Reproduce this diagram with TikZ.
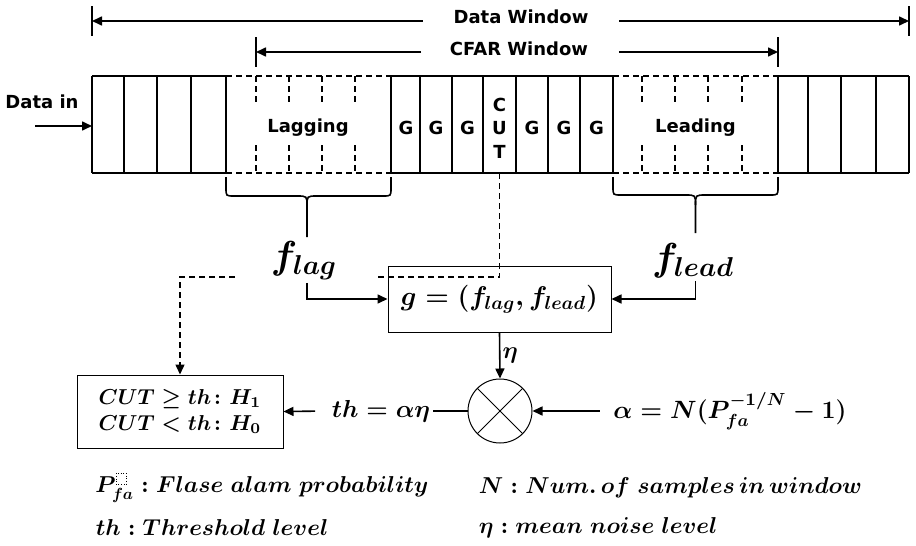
\RequirePackage{fix-cm}
\documentclass[tikz,border=0pt]{standalone}
\usepackage{amsmath}
\usepackage{amssymb}
\usepackage{fontspec}
\newfontfamily\lblfont{DejaVu Sans}
\usepackage{tikz}
\usetikzlibrary{arrows.meta}

\tikzset{
  lbl/.style={font=\lblfont\bfseries\fontsize{9}{11.75}\selectfont},
  tip/.style={-{Triangle[length=5pt,width=4.5pt]}},
  cell/.style={line width=0.7pt},
  dash line/.style={line width=0.7pt,dash pattern=on 3pt off 2pt},
  blockbox/.style={draw,line width=0.5pt,inner sep=1pt},
  legend/.style={anchor=west,font=\boldmath\fontsize{11.5}{14}\selectfont}
}

\begin{document}
\begin{tikzpicture}[x=0.5pt,y=-0.5pt,line width=0.8pt,every node/.style={inner sep=1pt}]
  \useasboundingbox (0,0) rectangle (916,546);

  \node[lbl] (dw) at (521,17) {Data Window};
  \node[lbl] (cw) at (519,49) {CFAR Window};
  \coordinate (dwl) at (92,21);
  \coordinate (dwr) at (909,21);
  \coordinate (cwl) at (256,52);
  \coordinate (cwr) at (778,52);
  \draw[tip,shorten <=14pt] (dwl -| dw.west) -- (dwl);
  \draw[tip,shorten <=14pt] (dwr -| dw.east) -- (dwr);
  \draw[tip,shorten <=13pt] (cwl -| cw.west) -- (cwl);
  \draw[tip,shorten <=14pt] (cwr -| cw.east) -- (cwr);
  \foreach \t in {dwl,dwr,cwl,cwr}
    \draw (\t) ++(0,-15) -- ++(0,30);

  \foreach \x in {92,124,157,191,226,391,420,452,483,516,548,580,613,778,808,841,876,909}
    \draw[cell] (\x,76) -- (\x,173);
  \foreach \a/\b in {92/226,391/613,778/909}
    \draw[cell] (\a,76) -- (\b,76) (\a,173) -- (\b,173);
  \foreach \a/\b in {226/391,613/778}
    \draw[dash line] (\a,76) -- (\b,76) (\a,173) -- (\b,173);
  \foreach \x in {256,289,322,355,642,675,708,742}
    \draw[dash line] (\x,76) -- (\x,103) (\x,145) -- (\x,173);

  \foreach \x/\n in {406/g1,436/g2,467.5/g3,532/g4,564/g5,596.5/g6}
    \node[lbl] (\n) at (\x,128) {G};
  \node[lbl,align=center] (cut) at (499.5,128) {C\\U\\T};
  \node[lbl] (lagging) at (308,128) {Lagging};
  \node[lbl] (leading) at (695.5,128) {Leading};
  \node[lbl] (din) at (42,102) {Data in};
  \coordinate (dinl) at (35,126);
  \coordinate (strip) at (92,126);
  \draw[tip] (dinl) -- (strip);

  \coordinate (lagtip) at (307,237);
  \coordinate (leadtip) at (695.5,233);
  \draw (226,177) -- (226,188) .. controls (226,196) .. (234,196) -- (297,196)
        .. controls (307,196) .. (307,206) -- (lagtip);
  \draw (391,177) -- (391,188) .. controls (391,196) .. (383,196) -- (317,196)
        .. controls (307,196) .. (307,206);
  \draw (613,177) -- (613,187) .. controls (613,195) .. (621,195) -- (685.5,195)
        .. controls (695.5,195) .. (695.5,205) -- (leadtip);
  \draw (778,177) -- (778,187) .. controls (778,195) .. (770,195) -- (705.5,195)
        .. controls (695.5,195) .. (695.5,205);

  \node[font=\boldmath\fontsize{19.5}{23}\selectfont] (flag) at (304,261) {$f_{lag}$};
  \node[font=\boldmath\fontsize{19.5}{23}\selectfont] (flead) at (693,261) {$f_{lead}$};
  \node[blockbox,minimum width=111.5pt,minimum height=33pt,font=\boldmath\fontsize{13.5}{16}\selectfont] (g) at (499.5,299) {$g=(f_{lag},f_{lead})$};
  \node[blockbox,minimum width=103pt,minimum height=36.5pt,align=center,font=\boldmath\fontsize{10.8}{13}\selectfont] (dec) at (180,411.5) {$CUT\ge th\colon H_1$\\$CUT<th\colon H_0$};
  \node[draw,circle,line width=0.5pt,minimum size=32pt,inner sep=0pt] (mul) at (500,411) {};
  \draw[line width=0.5pt] (mul.north west) -- (mul.south east) (mul.north east) -- (mul.south west);
  \node[font=\boldmath\fontsize{12.5}{15}\selectfont] (alpha) at (730,411) {$\alpha=N(P_{fa}^{-1/N}-1)$};
  \node[font=\boldmath\fontsize{12.3}{15}\selectfont] (th) at (381,411) {$th=\alpha\eta$};

  \draw[tip] (flag.south -| lagtip) |- (g.west);
  \draw[tip] (flead.south -| leadtip) |- (g.east);
  \draw[tip] (g.south) -- node[right,font=\boldmath\fontsize{12}{14}\selectfont] (eta) {$\eta$} (mul.north);
  \draw[tip,shorten <=5.5pt] (alpha.west) -- (mul.east);
  \draw (mul.west) -- (th.east);
  \draw[tip,shorten <=7pt] (th.west) -- (dec.east);

  \coordinate (cutbot) at (499.5,173);
  \coordinate (dl1) at (377,277);
  \coordinate (dl2) at (235,277);
  \draw[dash line] (cutbot) |- (dl1);
  \draw[dash line,tip] (dl2) -| (dec.north);

  \node[legend] (leg1) at (93,488)
    {$P_{fa}^{\tikz[baseline]\draw[densely dotted,line width=0.3pt] (0pt,0pt) rectangle (5pt,5.5pt);} : Flase\;alam\;probability$};
  \node[legend] (leg2) at (93,528) {$th : Threshold\;level$};
  \node[legend] (leg3) at (476,488) {$N : Num.\,of\;samples\,in\,window$};
  \node[legend] (leg4) at (476,528) {$\eta : mean\;noise\;level$};
\end{tikzpicture}
\end{document}
